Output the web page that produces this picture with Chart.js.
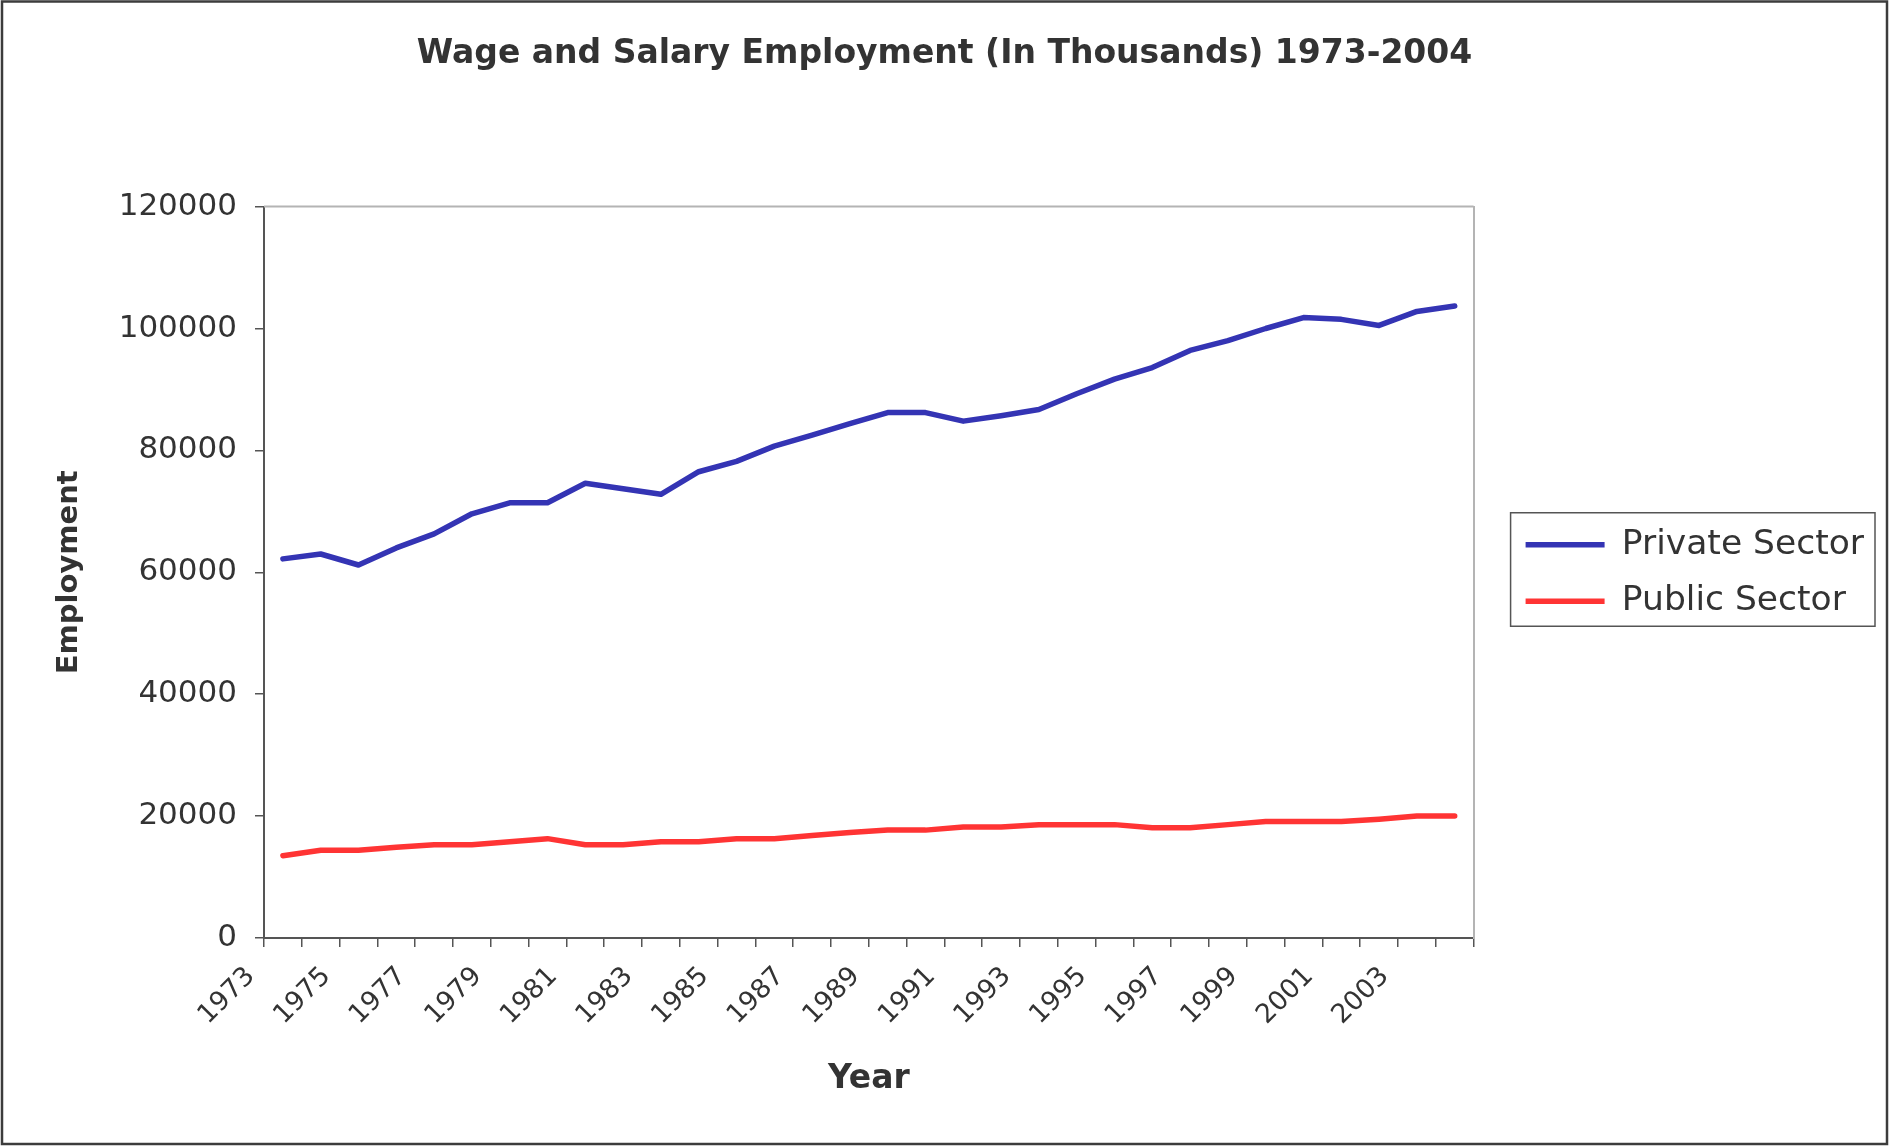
<!DOCTYPE html>
<html>
<head>
<meta charset="utf-8">
<script src="https://cdn.jsdelivr.net/npm/chart.js@4/dist/chart.umd.min.js"></script>
<style>
  html, body { margin: 0; padding: 0; background: #ffffff; }
  canvas { display: block; }
</style>
</head>
<body>
<canvas id="c" width="1889" height="1146" style="width:1889px;height:1146px"></canvas>
<script>
// ---- data ----
const years = [1973,1974,1975,1976,1977,1978,1979,1980,1981,1982,1983,1984,1985,1986,1987,1988,
               1989,1990,1991,1992,1993,1994,1995,1996,1997,1998,1999,2000,2001,2002,2003,2004];
const privateSector = [62200,63000,61200,64000,66300,69600,71400,71400,74600,73700,72800,76500,78200,80700,82500,84400,
                       86200,86200,84800,85700,86700,89300,91700,93600,96400,98000,100000,101800,101500,100500,102800,103700];
const publicSector = [13500,14400,14400,14900,15300,15300,15800,16300,15300,15300,15800,15800,16300,16300,16800,17300,
                      17700,17700,18200,18200,18600,18600,18600,18100,18100,18600,19100,19100,19100,19500,20000,20000];
const seriesNames = ['Private Sector', 'Public Sector'];
const chartTitle = 'Wage and Salary Employment (In Thousands) 1973-2004';
const xTitle = 'Year';
const yTitle = 'Employment';
const yMin = 0, yMax = 120000, yStep = 20000;

// ---- styling ----
const FONT = '"DejaVu Sans", "Liberation Sans", Arial, sans-serif';
const TEXT = '#333333';
const AXIS = '#555555';
const FRAME = '#b4b4b4';

const framePlugin = {
  id: 'framePlugin',
  beforeDraw(chart) {
    const ctx = chart.ctx;
    ctx.save();
    ctx.fillStyle = '#ffffff';
    ctx.fillRect(0, 0, chart.width, chart.height);
    ctx.restore();
  },
  beforeDatasetsDraw(chart) {
    const {ctx, chartArea: a} = chart;
    ctx.save();
    ctx.strokeStyle = FRAME;
    ctx.lineWidth = 2;
    ctx.beginPath();
    ctx.moveTo(a.left, a.top);
    ctx.lineTo(a.right, a.top);
    ctx.stroke();
    ctx.restore();
  },
  afterDraw(chart) {
    const ctx = chart.ctx;
    ctx.save();
    // outer border
    ctx.strokeStyle = '#3c3c3c';
    ctx.lineWidth = 2.5;
    ctx.strokeRect(2, 1.5, chart.width - 4, chart.height - 3.5);
    // legend border
    const hb = chart.legend && chart.legend.legendHitBoxes;
    if (hb && hb.length) {
      const left = Math.min(...hb.map(h => h.left)) - 15;
      const right = Math.max(...hb.map(h => h.left + h.width)) + 11;
      const top = hb[0].top + hb[0].height / 2 - 32;
      const last = hb[hb.length - 1];
      const bottom = last.top + last.height / 2 + 25;
      ctx.strokeStyle = '#555555';
      ctx.lineWidth = 1.5;
      ctx.strokeRect(left, top, right - left, bottom - top);
    }
    ctx.restore();
  }
};

Chart.defaults.font.family = FONT;
Chart.defaults.color = TEXT;

new Chart(document.getElementById('c'), {
  type: 'line',
  data: {
    labels: years,
    datasets: [
      {
        label: seriesNames[0],
        data: privateSector,
        borderColor: '#3434b4',
        backgroundColor: '#3434b4',
        borderWidth: 5.5,
        pointRadius: 0,
        tension: 0,
        borderCapStyle: 'round',
        borderJoinStyle: 'round'
      },
      {
        label: seriesNames[1],
        data: publicSector,
        borderColor: '#ff3434',
        backgroundColor: '#ff3434',
        borderWidth: 5.5,
        pointRadius: 0,
        tension: 0,
        borderCapStyle: 'round',
        borderJoinStyle: 'round'
      }
    ]
  },
  options: {
    responsive: false,
    devicePixelRatio: 1,
    animation: false,
    layout: { padding: { left: 15, right: 15, top: 0, bottom: 0 } },
    plugins: {
      title: {
        display: true,
        text: chartTitle,
        color: TEXT,
        font: { size: 33, weight: 'bold', family: FONT },
        padding: { top: 35, bottom: 132 }
      },
      legend: {
        display: true,
        position: 'right',
        maxWidth: 520,
        labels: {
          usePointStyle: true,
          pointStyle: 'line',
          pointStyleWidth: 79,
          padding: 22,
          color: TEXT,
          font: { size: 34.5, family: FONT }
        }
      },
      tooltip: { enabled: false }
    },
    scales: {
      x: {
        type: 'category',
        offset: true,
        grid: {
          display: true,
          drawOnChartArea: false,
          drawTicks: true,
          offset: true,
          tickLength: 9,
          color: AXIS,
          lineWidth: 1.5
        },
        border: { display: true, color: AXIS, width: 2 },
        ticks: {
          autoSkip: false,
          minRotation: 45,
          maxRotation: 45,
          padding: 14,
          labelOffset: -32,
          color: TEXT,
          font: { size: 26.5, family: FONT },
          callback: function(value, index) { return index % 2 === 0 ? String(years[index]) : ''; }
        },
        title: {
          display: true,
          text: xTitle,
          color: TEXT,
          font: { size: 33, weight: 'bold', family: FONT },
          padding: { top: 0, bottom: 47 }
        },
        afterFit(scale) { scale.height = 208; }
      },
      y: {
        type: 'linear',
        min: yMin,
        max: yMax,
        grid: {
          display: true,
          drawOnChartArea: false,
          drawTicks: true,
          tickLength: 9,
          color: AXIS,
          lineWidth: 1.5
        },
        border: { display: true, color: AXIS, width: 2 },
        ticks: {
          stepSize: yStep,
          padding: 18,
          color: TEXT,
          font: { size: 31, family: FONT },
          callback: function(value) { return String(value); }
        },
        title: {
          display: true,
          text: yTitle,
          color: TEXT,
          font: { size: 29, weight: 'bold', family: FONT },
          padding: { top: 37, bottom: 0 }
        },
        afterFit(scale) { scale.width = 249; }
      },
      y2: {
        type: 'linear',
        position: 'right',
        display: true,
        grid: { display: false, drawTicks: false },
        ticks: { display: false },
        border: { display: true, color: FRAME, width: 2 },
        afterFit(scale) { scale.width = 30; }
      }
    }
  },
  plugins: [framePlugin]
});
</script>
</body>
</html>
